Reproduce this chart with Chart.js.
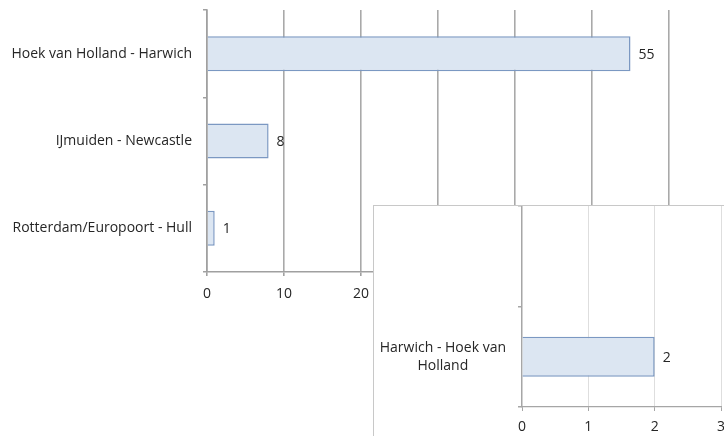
<!DOCTYPE html>
<html>
<head>
<meta charset="utf-8">
<script src="https://cdn.jsdelivr.net/npm/chart.js@4"></script>
<style>
  html, body { margin: 0; padding: 0; background: #fff; overflow: hidden; }
  #wrap { position: relative; width: 724px; height: 436px; overflow: hidden; }
  #mainBox { position: absolute; left: 0; top: 0; width: 724px; height: 310px; }
  #insetBox { position: absolute; left: 373px; top: 205px; width: 380px; height: 231px;
    background: #fff; border-left: 1.5px solid #c8c8c8; border-top: 1.5px solid #c8c8c8; }
</style>
</head>
<body>
<div id="wrap">
  <div id="mainBox"><canvas id="mainChart"></canvas></div>
  <div id="insetBox"><canvas id="insetChart"></canvas></div>
</div>
<script>
// main chart data
const routes = ['Hoek van Holland - Harwich', 'IJmuiden - Newcastle', 'Rotterdam/Europoort - Hull'];
const crossings = [55, 8, 1];
const mainTicks = [0, 10, 20, 30, 40, 50, 60];

// inset chart data (top category is empty)
const insetRoutes = ['', ['Harwich - Hoek van', 'Holland']];
const insetCrossings = [null, 2];
const insetTicks = [0, 1, 2, 3];

const FONT = "'Open Sans', sans-serif";
const TEXT = '#262626';
const BAR_FILL = '#dce6f2';
const BAR_EDGE = '#7b98c2';

// draws the value just past the end of each bar
const valueLabels = {
  id: 'valueLabels',
  afterDatasetsDraw(chart) {
    const ctx = chart.ctx;
    const meta = chart.getDatasetMeta(0);
    ctx.save();
    ctx.font = '14px ' + FONT;
    ctx.fillStyle = TEXT;
    ctx.textAlign = 'left';
    ctx.textBaseline = 'middle';
    meta.data.forEach((bar, i) => {
      const v = chart.data.datasets[0].data[i];
      if (v == null) return;
      ctx.fillText(String(v), bar.x + 8, bar.y + 1);
    });
    ctx.restore();
  }
};

function barOptions(opt) {
  return {
    indexAxis: 'y',
    responsive: true,
    maintainAspectRatio: false,
    animation: false,
    layout: { padding: opt.padding },
    plugins: { legend: { display: false }, tooltip: { enabled: false } },
    scales: {
      x: {
        min: 0,
        max: opt.max,
        afterBuildTicks: (axis) => { axis.ticks = opt.ticks.map(v => ({ value: v })); },
        afterFit: (axis) => {
          axis.height = opt.xHeight;
          axis.paddingLeft = 0; axis.paddingRight = 0;
        },
        grid: { color: opt.gridColor, lineWidth: opt.gridWidth, tickLength: 4, tickColor: opt.axisColor },
        border: { color: opt.axisColor, width: opt.axisWidth },
        ticks: { color: TEXT, font: { family: FONT, size: 14 }, padding: opt.xPad, maxRotation: 0 }
      },
      y: {
        afterFit: (axis) => {
          axis.width = opt.yWidth;
          axis.paddingTop = 0; axis.paddingBottom = 0;
        },
        grid: { drawOnChartArea: false, tickLength: 4, color: opt.axisColor, lineWidth: 1.5 },
        border: { color: opt.axisColor, width: opt.axisWidth },
        ticks: { color: TEXT, font: { family: FONT, size: 14, lineHeight: 1.3 }, padding: opt.yPad,
          crossAlign: opt.crossAlign, autoSkip: false }
      }
    }
  };
}

new Chart(document.getElementById('mainChart'), {
  type: 'bar',
  data: {
    labels: routes,
    datasets: [{
      data: crossings,
      backgroundColor: BAR_FILL,
      borderColor: BAR_EDGE,
      borderWidth: 1.5,
      categoryPercentage: 1,
      barPercentage: 0.4
    }]
  },
  options: barOptions({
    padding: { top: 10, right: 55, left: 0, bottom: 0 },
    max: 60, ticks: mainTicks, xHeight: 38, yWidth: 207,
    gridColor: '#a9a9a9', gridWidth: 1.6, axisColor: '#a0a0a0', axisWidth: 1.6,
    xPad: 10, yPad: 11, crossAlign: 'near'
  }),
  plugins: [valueLabels]
});

new Chart(document.getElementById('insetChart'), {
  type: 'bar',
  data: {
    labels: insetRoutes,
    datasets: [{
      data: insetCrossings,
      backgroundColor: BAR_FILL,
      borderColor: BAR_EDGE,
      borderWidth: 1.5,
      categoryPercentage: 1,
      barPercentage: 0.4
    }]
  },
  options: barOptions({
    padding: { top: 0, right: 33, left: 0, bottom: 0 },
    max: 3, ticks: insetTicks, xHeight: 30, yWidth: 148,
    gridColor: '#dedede', gridWidth: 1, axisColor: '#a6a6a6', axisWidth: 1.2,
    xPad: 8, yPad: 12, crossAlign: 'center'
  }),
  plugins: [valueLabels]
});
</script>
</body>
</html>
